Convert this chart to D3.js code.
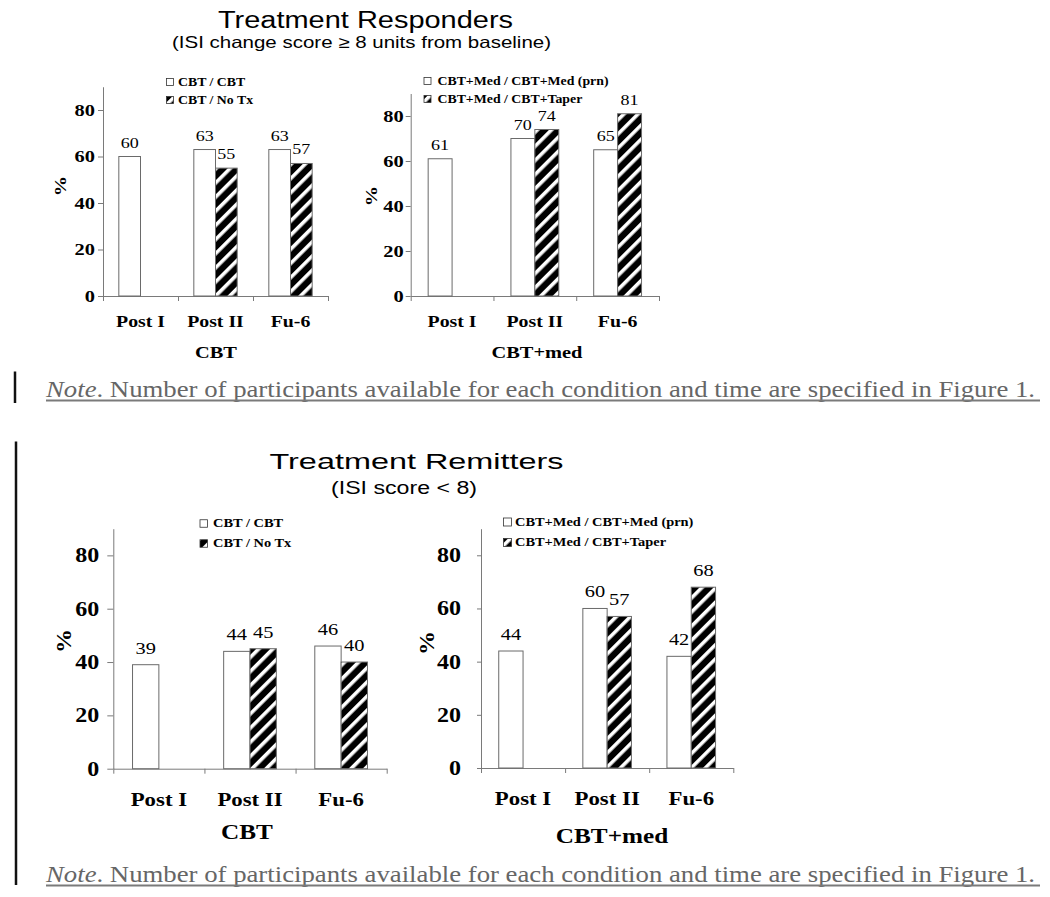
<!DOCTYPE html>
<html><head><meta charset="utf-8">
<script src="https://cdn.jsdelivr.net/npm/d3@7"></script>
<style>html,body{margin:0;padding:0;background:#fff;} svg{display:block;}</style>
</head><body>
<svg id="chart" width="1050" height="897"></svg>
<script>
// ---- data ----
const categories = ["Post I", "Post II", "Fu-6"];
const yTicks = [0, 20, 40, 60, 80];
const cbtLegend = ["CBT / CBT", "CBT / No Tx"];
const medLegend = ["CBT+Med / CBT+Med (prn)", "CBT+Med / CBT+Taper"];
const respCbtContinued = [60, 63, 63];
const respCbtStopped = [null, 55, 57];
const respMedContinued = [61, 70, 65];
const respMedTaper = [null, 74, 81];
const remCbtContinued = [39, 44, 46];
const remCbtStopped = [null, 45, 40];
const remMedContinued = [44, 60, 42];
const remMedTaper = [null, 57, 68];
const noteText = ". Number of participants available for each condition and time are specified in Figure 1.";

const SERIF = "'Liberation Serif','Times New Roman',Times,serif";
const SANS = "'Liberation Sans',Arial,Helvetica,sans-serif";
const svg = d3.select("#chart");

// hatch pattern
const defs = svg.append("defs");
const pat = defs.append("pattern").attr("id", "hatch").attr("patternUnits", "userSpaceOnUse")
  .attr("width", 10).attr("height", 10).attr("patternTransform", "rotate(45)");
pat.append("rect").attr("width", 10).attr("height", 10).attr("fill", "#000");
pat.append("rect").attr("x", 0).attr("width", 3.6).attr("height", 10).attr("fill", "#fff");

function panel(cfg, s1, s2, legendNames) {
  const g = svg.append("g");
  const x = d3.scaleBand().domain(categories).range([cfg.x0, cfg.x1]);
  const sub = d3.scaleBand().domain([0, 1]).range([0, x.bandwidth()]).paddingOuter(0.73);
  const y = d3.scaleLinear().domain([0, 90]).range([cfg.yZero, cfg.yTop]);

  // y axis
  const ya = g.append("g").attr("transform", `translate(${cfg.x0},0)`)
    .call(d3.axisLeft(y).tickValues(yTicks).tickSize(cfg.tick).tickSizeOuter(0).tickPadding(cfg.tickPad));
  ya.selectAll("path,line").attr("stroke", "#7a7a7a");
  ya.selectAll("text").attr("class", "st").style("font-family", SERIF).style("font-weight", "bold")
    .style("font-size", cfg.tickFont + "px").attr("fill", "#000");

  // x axis with boundary ticks
  const xb = d3.scaleLinear().domain([0, categories.length]).range([cfg.x0, cfg.x1]);
  const xa = g.append("g").attr("transform", `translate(0,${cfg.yZero})`)
    .call(d3.axisBottom(xb).tickValues(d3.range(categories.length + 1)).tickFormat("").tickSize(5).tickSizeOuter(0));
  xa.selectAll("path,line").attr("stroke", "#7a7a7a");

  // category labels
  const ca = g.append("g").attr("transform", `translate(0,${cfg.catY})`)
    .call(d3.axisBottom(x).tickSize(0).tickPadding(0));
  ca.select(".domain").remove();
  ca.selectAll("text").attr("class", "st").attr("dy", 0).style("font-family", SERIF).style("font-weight", "bold")
    .style("font-size", cfg.catFont + "px").attr("fill", "#000");

  // bars
  const rows = [];
  categories.forEach((c, i) => {
    if (s1[i] != null) rows.push({c, k: 0, v: s1[i]});
    if (s2[i] != null) rows.push({c, k: 1, v: s2[i]});
  });
  g.selectAll("rect.bar").data(rows).join("rect").attr("class", "bar")
    .attr("x", d => x(d.c) + sub(d.k)).attr("width", sub.bandwidth())
    .attr("y", d => y(d.v)).attr("height", d => y(0) - y(d.v))
    .attr("fill", d => d.k === 0 ? "#fff" : "url(#hatch)")
    .attr("stroke", "#6a6a6a").attr("stroke-width", 1);
  g.selectAll("text.val").data(rows).join("text").attr("class", "val st")
    .attr("x", d => x(d.c) + sub(d.k) + sub.bandwidth() / 2)
    .attr("y", d => y(d.v) - cfg.valGap)
    .attr("text-anchor", "middle").style("font-family", SERIF).style("font-size", cfg.valFont + "px")
    .text(d => d.v);

  // y label
  g.append("text").attr("class", "st").attr("transform", `translate(${cfg.pctX},${cfg.pctY}) rotate(-90)`)
    .attr("text-anchor", "middle").style("font-family", SERIF).style("font-weight", "bold")
    .style("font-size", cfg.pctFont + "px").text("%");

  // axis title
  g.append("text").attr("class", "st").attr("x", cfg.titleX).attr("y", cfg.titleY).attr("text-anchor", "middle")
    .style("font-family", SERIF).style("font-weight", "bold").style("font-size", cfg.titleFont + "px").text(cfg.title);

  // legend
  const lg = g.append("g");
  legendNames.forEach((name, i) => {
    const cy = cfg.legY[i];
    lg.append("rect").attr("x", cfg.legX).attr("y", cy - cfg.legSq / 2).attr("width", cfg.legSq).attr("height", cfg.legSq)
      .attr("fill", i === 0 ? "#fff" : "url(#hatch)").attr("stroke", "#333").attr("stroke-width", 0.8);
    lg.append("text").attr("class", "st").attr("x", cfg.legTextX).attr("y", cy + cfg.legFont * 0.33)
      .style("font-family", SERIF).style("font-weight", "bold").style("font-size", cfg.legFont + "px").text(name);
  });
}

panel({x0: 103, x1: 328, yZero: 296, yTop: 86.75, tick: 5, tickPad: 3, tickFont: 17, catY: 327, catFont: 16.5,
  valFont: 15, valGap: 9, pctX: 66, pctY: 186, pctFont: 17, title: "CBT", titleX: 216, titleY: 358, titleFont: 17,
  legX: 166.5, legTextX: 178, legY: [82, 100], legSq: 7, legFont: 11.5},
  respCbtContinued, respCbtStopped, cbtLegend);
panel({x0: 410.7, x1: 659, yZero: 296, yTop: 93.5, tick: 5, tickPad: 2, tickFont: 17, catY: 327, catFont: 16.5,
  valFont: 15, valGap: 9, pctX: 377, pctY: 196, pctFont: 17, title: "CBT+med", titleX: 537, titleY: 358, titleFont: 17,
  legX: 424, legTextX: 437.5, legY: [81, 99], legSq: 7, legFont: 11.5},
  respMedContinued, respMedTaper, medLegend);
panel({x0: 113.3, x1: 386.7, yZero: 768.7, yTop: 528.7, tick: 6, tickPad: 8, tickFont: 20, catY: 806, catFont: 19,
  valFont: 17, valGap: 11, pctX: 71, pctY: 641, pctFont: 20, title: "CBT", titleX: 247, titleY: 838.5, titleFont: 21,
  legX: 200, legTextX: 213, legY: [523.5, 543.5], legSq: 7.5, legFont: 12},
  remCbtContinued, remCbtStopped, cbtLegend);
panel({x0: 481, x1: 733.3, yZero: 768, yTop: 528.7, tick: 4, tickPad: 16, tickFont: 20, catY: 805, catFont: 19,
  valFont: 17, valGap: 11, pctX: 434, pctY: 643, pctFont: 20, title: "CBT+med", titleX: 612, titleY: 843, titleFont: 21,
  legX: 503.5, legTextX: 515, legY: [522, 542.5], legSq: 8, legFont: 12},
  remMedContinued, remMedTaper, medLegend);

// stretch serif texts horizontally
svg.selectAll("text.st").each(function () {
  const len = this.getComputedTextLength();
  d3.select(this).attr("textLength", len * 1.2).attr("lengthAdjust", "spacingAndGlyphs");
});

// titles
function title(txt, x0, x1, yb, size) {
  svg.append("text").attr("x", x0).attr("y", yb).style("font-family", SANS).style("font-size", size + "px")
    .attr("textLength", x1 - x0).attr("lengthAdjust", "spacingAndGlyphs").text(txt);
}
title("Treatment Responders", 218, 513, 27.5, 23);
title("(ISI change score \u2265 8 units from baseline)", 172, 551, 47.5, 16.5);
title("Treatment Remitters", 269.5, 563.5, 468.5, 22.5);
title("(ISI score < 8)", 331, 477, 494, 17.5);

// notes
function note(yb, barTop, barBot, barX) {
  const t = svg.append("text").attr("x", 46).attr("y", yb).style("font-family", SERIF).style("font-size", "24px")
    .attr("fill", "#666").attr("textLength", 989).attr("lengthAdjust", "spacingAndGlyphs");
  t.append("tspan").style("font-style", "italic").text("Note");
  t.append("tspan").text(noteText);
  svg.append("line").attr("x1", 46).attr("x2", 1040).attr("y1", yb + 4).attr("y2", yb + 4)
    .attr("stroke", "#7a7a7a").attr("stroke-width", 2);
  svg.append("line").attr("x1", barX).attr("x2", barX).attr("y1", barTop).attr("y2", barBot)
    .attr("stroke", "#111").attr("stroke-width", 2.5);
}
note(396.5, 371.5, 403, 15);
note(881.5, 441.5, 885, 16);
</script>
</body></html>
